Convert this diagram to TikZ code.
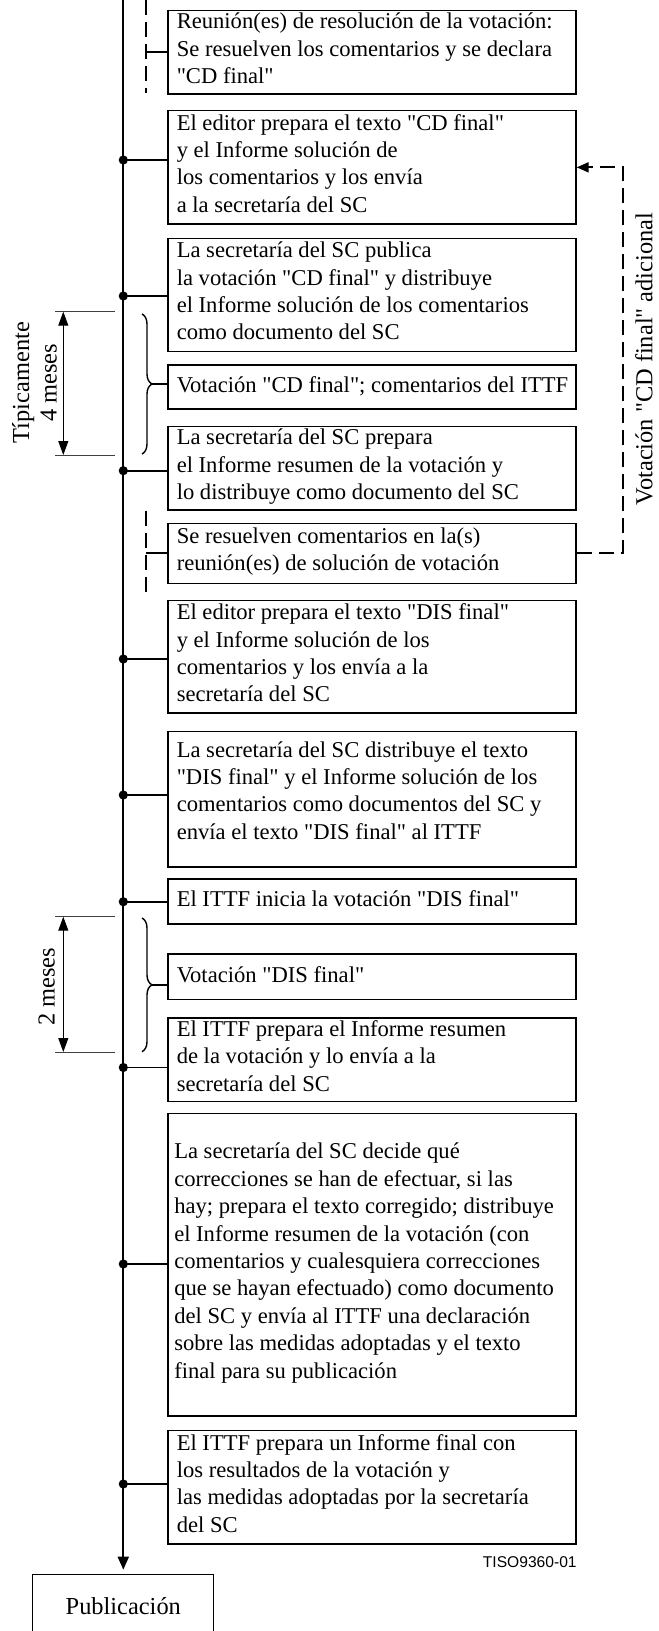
\documentclass[tikz,border=0pt]{standalone}
\usepackage{fontspec}
\setmainfont{Liberation Serif}[Ligatures=TeXOff]
\newfontfamily\figsans{Liberation Sans}
\usetikzlibrary{arrows.meta,decorations.pathreplacing,calc}

\begin{document}
\begin{tikzpicture}[x=0.5pt,y=-0.5pt,
  every node/.style={font=\fontsize{11.3}{13.7}\selectfont},
  sidefont/.style={font=\fontsize{12.2}{13.8}\selectfont},
  stepbox/.style={draw,line width=0.65pt,minimum width=204pt,minimum height=#1*0.5pt,inner sep=0pt},
  steptext/.style={anchor=west,align=left,inner sep=0pt,
    execute at begin node=\strut,execute at end node=\strut},
  spine/.style={line width=1pt},
  link/.style={line width=0.85pt},
  dot/.style={circle,fill,inner sep=0pt,minimum size=4.6pt},
  dashline/.style={line width=0.9pt,dash pattern=on 7.5pt off 3.5pt},
  dimline/.style={line width=0.5pt},
  extline/.style={line width=0.45pt,black!75},
  bracest/.style={line width=0.7pt,decorate,decoration={brace,amplitude=5pt}},
  dimtip/.tip={Triangle[length=7pt,width=5pt]},
]
\useasboundingbox (0,0) rectangle (658,1631);

% process steps
\node[stepbox=83.3]  (b1)  at (372,52.35)   {};
\node[stepbox=113.3] (b2)  at (372,167.35)  {};
\node[stepbox=113.4] (b3)  at (372,295)     {};
\node[stepbox=44]    (b4)  at (372,387)     {};
\node[stepbox=83.3]  (b5)  at (372,468.35)  {};
\node[stepbox=60]    (b6)  at (372,553.3)   {};
\node[stepbox=112.3] (b7)  at (372,656.85)  {};
\node[stepbox=135.3] (b8)  at (372,799.35)  {};
\node[stepbox=45]    (b9)  at (372,901.5)   {};
\node[stepbox=45.3]  (b10) at (372,976.65)  {};
\node[stepbox=83.7]  (b11) at (372,1059.85) {};
\node[stepbox=302.7] (b12) at (372,1264.65) {};
\node[stepbox=113.3] (b13) at (372,1487.35) {};

\node[steptext] (t1) at ([xshift=4.5pt]b1.west) {Reunión(es) de resolución de la votación:\\Se resuelven los comentarios y se declara\\"CD final"};
\node[steptext] (t2) at ([xshift=4.5pt]b2.west) {El editor prepara el texto "CD final"\\y el Informe solución de\\los comentarios y los envía\\a la secretaría del SC};
\node[steptext] (t3) at ([xshift=4.5pt]b3.west) {La secretaría del SC publica\\la votación "CD final" y distribuye\\el Informe solución de los comentarios\\como documento del SC};
\node[steptext] (t4) at ([xshift=4.5pt]b4.west) {Votación "CD final"; comentarios del ITTF};
\node[steptext] (t5) at ([xshift=4.5pt]b5.west) {La secretaría del SC prepara\\el Informe resumen de la votación y\\lo distribuye como documento del SC};
\node[steptext] (t6) at ([xshift=4.5pt]b6.west) {Se resuelven comentarios en la(s)\\reunión(es) de solución de votación};
\node[steptext] (t7) at ([xshift=4.5pt]b7.west) {El editor prepara el texto "DIS final"\\y el Informe solución de los\\comentarios y los envía a la\\secretaría del SC};
\node[steptext] (t8) at ([xshift=4.5pt,yshift=2.5pt]b8.west) {La secretaría del SC distribuye el texto\\"DIS final" y el Informe solución de los\\comentarios como documentos del SC y\\envía el texto "DIS final" al ITTF};
\node[steptext] (t9) at ([xshift=4.5pt]b9.west) {El ITTF inicia la votación "DIS final"};
\node[steptext] (t10) at ([xshift=4.5pt]b10.west) {Votación "DIS final"};
\node[steptext] (t11) at ([xshift=4.5pt]b11.west) {El ITTF prepara el Informe resumen\\de la votación y lo envía a la\\secretaría del SC};
\node[steptext] (t12) at ([xshift=3.25pt]b12.west) {La secretaría del SC decide qué\\correcciones se han de efectuar, si las\\hay; prepara el texto corregido; distribuye\\el Informe resumen de la votación (con\\comentarios y cualesquiera correcciones\\que se hayan efectuado) como documento\\del SC y envía al ITTF una declaración\\sobre las medidas adoptadas y el texto\\final para su publicación};
\node[steptext] (t13) at ([xshift=4.5pt]b13.west) {El ITTF prepara un Informe final con\\los resultados de la votación y\\las medidas adoptadas por la secretaría\\del SC};

% time axis ending in the publication box
\coordinate (top) at (123.3,0);
\node[draw,line width=0.65pt,minimum width=90.5pt,minimum height=32pt,inner sep=0pt,sidefont] (pub) at (123.3,1606.3) {Publicación};
\draw[spine,-{Triangle[length=6.5pt,width=5.5pt]},shorten >=2pt] (top) -- (pub.north);

% junctions on the axis
\foreach \n/\y in {2/160,3/296,5/470.7,7/659,8/795,9/901.7,11/1067.5,12/1264,13/1484}{
  \node[dot] (d\n) at (123.3,\y) {};
  \draw[link] (d\n.center) -- (d\n.center -| b\n.west);
}

% meetings (dashed branches)
\coordinate (g1a) at (145.7,0);
\coordinate (g1b) at (145.7,93);
\draw[dashline] (g1a) -- (g1b);
\draw[link] (b1.west) -- (b1.west -| g1a);
\coordinate (g2a) at (145.7,510.7);
\coordinate (g2b) at (145.7,593);
\draw[dashline] (g2a) -- (g2b);
\draw[link] (b6.west) -- (b6.west -| g2a);

% additional ballot loop
\draw[dashline,-{Triangle[length=6pt,width=5pt]}] (b6.east) -- ++(46,0) |- (b2.east);
\node[rotate=90,sidefont,inner sep=0pt] (side) at (644,359) {Votación "CD final" adicional};

% durations
\coordinate (m1a) at (63.3,311.7);
\coordinate (m1b) at (63.3,455);
\draw[extline] ([xshift=-4.15pt]m1a) -- ([xshift=25.85pt]m1a);
\draw[extline] ([xshift=-4.15pt]m1b) -- ([xshift=25.85pt]m1b);
\draw[dimline,dimtip-dimtip] (m1a) -- (m1b);
\node[rotate=90,align=center,sidefont] (lab1) at (34.5,383) {Típicamente\\4 meses};

\coordinate (m2a) at (63.3,916.7);
\coordinate (m2b) at (63.3,1052);
\draw[extline] ([xshift=-4.15pt]m2a) -- ([xshift=25.85pt]m2a);
\draw[extline] ([xshift=-4.15pt]m2b) -- ([xshift=25.85pt]m2b);
\draw[dimline,dimtip-dimtip] (m2a) -- (m2b);
\node[rotate=90,sidefont] (lab2) at (46.7,987) {2 meses};

% braces grouping the ballot periods
\coordinate (k1a) at (142,314);
\coordinate (k1b) at (142,454);
\draw[bracest] (k1a) -- (k1b);
\coordinate (k1tip) at (152,384);
\draw[link] (k1tip) -- (k1tip -| b4.west);

\coordinate (k2a) at (142,918);
\coordinate (k2b) at (142,1051.7);
\draw[bracest] (k2a) -- (k2b);
\coordinate (k2tip) at (152,984.9);
\draw[link] (k2tip) -- (k2tip -| b10.west);

\node[anchor=east,inner sep=0pt,font=\figsans\fontsize{7.8}{9}\selectfont] (code) at (577,1562) {TISO9360-01};
\end{tikzpicture}
\end{document}
